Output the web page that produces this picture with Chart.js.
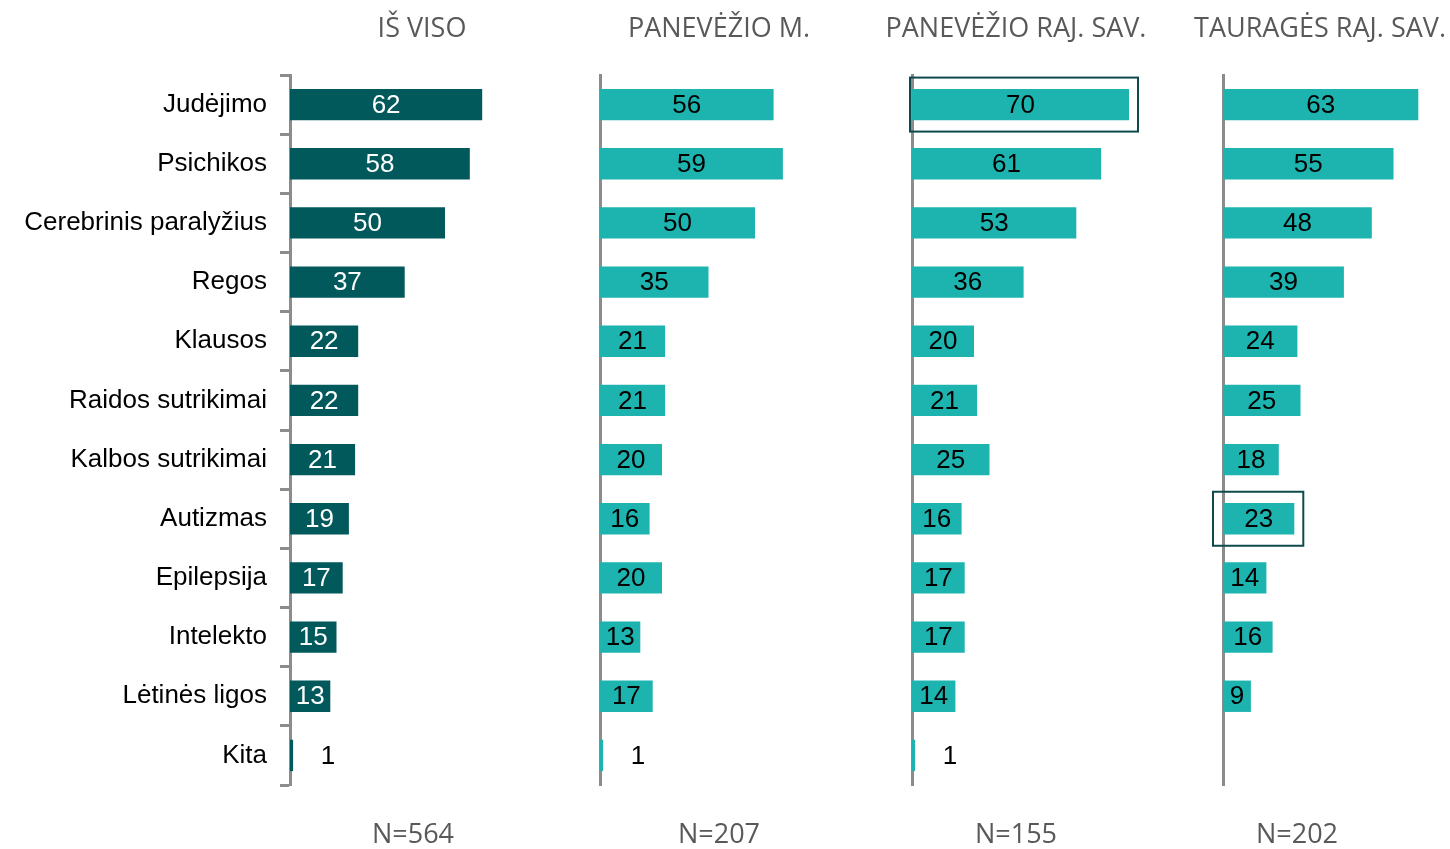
<!DOCTYPE html>
<html>
<head>
<meta charset="utf-8">
<script src="https://cdn.jsdelivr.net/npm/chart.js@4"></script>
<style>
  body { margin: 0; background: #fff; }
  #wrap { position: relative; width: 1450px; height: 849px; }
  #wrap canvas { position: absolute; left: 0; top: 0; }
</style>
</head>
<body>
<div id="wrap"></div>
<script>
// categories (same order in every panel)
const categories = ['Judėjimo', 'Psichikos', 'Cerebrinis paralyžius', 'Regos', 'Klausos',
  'Raidos sutrikimai', 'Kalbos sutrikimai', 'Autizmas', 'Epilepsija', 'Intelekto', 'Lėtinės ligos', 'Kita'];

// values per panel
const isViso = [62, 58, 50, 37, 22, 22, 21, 19, 17, 15, 13, 1];
const panevezioM = [56, 59, 50, 35, 21, 21, 20, 16, 20, 13, 17, 1];
const panevezioRaj = [70, 61, 53, 36, 20, 21, 25, 16, 17, 17, 14, 1];
const taurages = [63, 55, 48, 39, 24, 25, 18, 23, 14, 16, 9, null];

const panelTitles = ['IŠ VISO', 'PANEVĖŽIO M.', 'PANEVĖŽIO RAJ. SAV.', 'TAURAGĖS RAJ. SAV.'];
const sampleSizes = ['N=564', 'N=207', 'N=155', 'N=202'];

// layout
const W = 1450, H = 849;
const PX_PER_UNIT = 3.1;
const DARK = '#02595B';
const LIGHT = '#1DB3AF';
const AXIS = '#8C8C8C';

const panels = [
  { values: isViso, axisX: 290, width: 310, color: DARK, labelColor: '#FFFFFF', titleX: 422, nX: 413, boxes: [] },
  { values: panevezioM, axisX: 600, width: 310, color: LIGHT, labelColor: '#000000', titleX: 719, nX: 719, boxes: [] },
  { values: panevezioRaj, axisX: 912, width: 310, color: LIGHT, labelColor: '#000000', titleX: 1016, nX: 1016,
    boxes: [{ index: 0, left: 2, right: 9 }] },
  { values: taurages, axisX: 1223, width: 227, color: LIGHT, labelColor: '#000000', titleX: 1320, nX: 1297,
    boxes: [{ index: 7, left: 10, right: 9 }] }
];

// titres, N, valeurs et cadres
const panelDecor = {
  id: 'panelDecor',
  afterDatasetsDraw(chart, args, opts) {
    const ctx = chart.ctx;
    const meta = chart.getDatasetMeta(0);
    const values = chart.data.datasets[0].data;

    ctx.save();
    ctx.font = '26px "Liberation Sans", Arial, sans-serif';
    ctx.textAlign = 'center';
    ctx.textBaseline = 'middle';
    meta.data.forEach((bar, j) => {
      const v = values[j];
      if (v == null) return;
      const w = bar.x - bar.base;
      if (w < 10) {
        ctx.fillStyle = '#000000';
        ctx.fillText(v, bar.base + 38, bar.y + 1);
      } else {
        ctx.fillStyle = opts.labelColor;
        ctx.fillText(v, (bar.x + bar.base) / 2, bar.y + 1);
      }
    });

    // cadres de mise en évidence
    ctx.strokeStyle = '#0E4A4B';
    ctx.lineWidth = 2;
    opts.boxes.forEach(b => {
      const bar = meta.data[b.index];
      const x0 = bar.base - b.left;
      const x1 = bar.x + b.right;
      ctx.strokeRect(x0, bar.y - 27, x1 - x0, 54);
    });
    ctx.restore();
  },
  afterDraw(chart, args, opts) {
    const ctx = chart.ctx;
    ctx.save();
    ctx.font = '400 27px "Open Sans", sans-serif';
    ctx.fillStyle = '#595959';
    ctx.textAlign = 'center';
    ctx.textBaseline = 'alphabetic';
    ctx.fillText(opts.title, opts.titleX, 37);
    ctx.fillText(opts.n, opts.nX, 843);
    ctx.restore();
  }
};

const wrap = document.getElementById('wrap');

panels.forEach((p, i) => {
  const canvas = document.createElement('canvas');
  canvas.width = W;
  canvas.height = H;
  wrap.appendChild(canvas);

  new Chart(canvas, {
    type: 'bar',
    data: {
      labels: categories,
      datasets: [{
        data: p.values,
        backgroundColor: p.color,
        barPercentage: 0.53,
        categoryPercentage: 1
      }]
    },
    options: {
      indexAxis: 'y',
      responsive: false,
      animation: false,
      events: [],
      layout: {
        padding: { left: i === 0 ? 0 : p.axisX, right: W - p.axisX - p.width, top: 75, bottom: 64 }
      },
      plugins: {
        legend: { display: false },
        tooltip: { enabled: false },
        panelDecor: {
          title: panelTitles[i],
          n: sampleSizes[i],
          titleX: p.titleX,
          nX: p.nX,
          labelColor: p.labelColor,
          boxes: p.boxes
        }
      },
      scales: {
        x: { display: false, min: 0, max: p.width / PX_PER_UNIT },
        y: {
          z: 1,
          border: { color: AXIS, width: 3 },
          grid: {
            display: i === 0,
            drawOnChartArea: false,
            drawTicks: true,
            tickLength: 10,
            tickWidth: 3,
            tickColor: AXIS
          },
          ticks: {
            display: i === 0,
            color: '#000000',
            padding: 13,
            font: { family: '"Liberation Sans", Arial, sans-serif', size: 26 }
          },
          afterFit: (scale) => { scale.width = i === 0 ? p.axisX : 0; }
        }
      }
    },
    plugins: [panelDecor]
  });
});
</script>
</body>
</html>
